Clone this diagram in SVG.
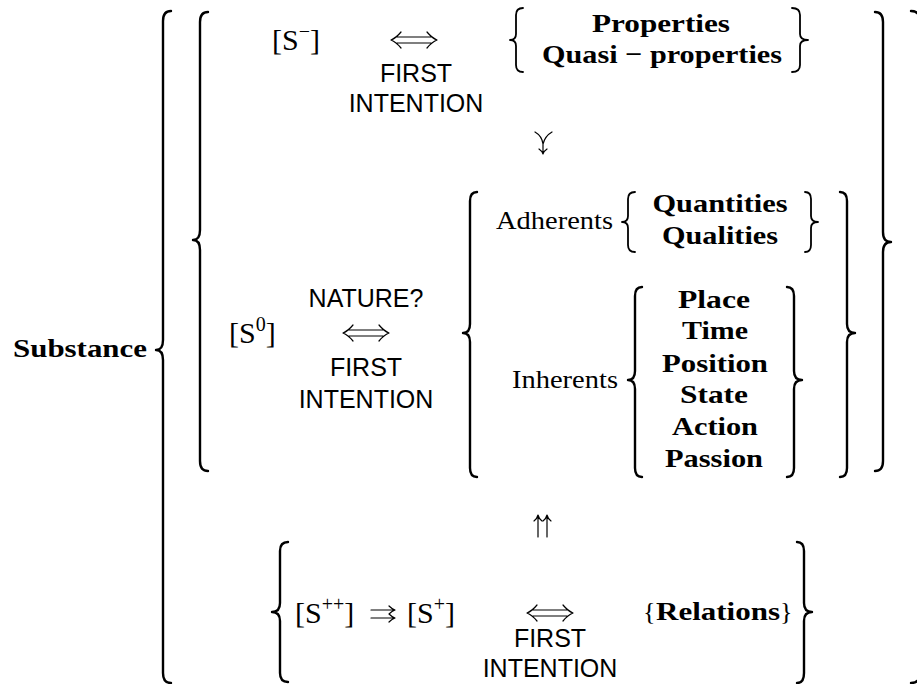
<svg xmlns="http://www.w3.org/2000/svg" width="917" height="684" viewBox="0 0 917 684">
<style>
.rm{font-family:"Liberation Serif","DejaVu Serif",serif;font-size:26px;fill:#000}
.mx{font-family:"Liberation Serif","DejaVu Serif",serif;font-size:30px;fill:#000}
.bf{font-family:"Liberation Serif","DejaVu Serif",serif;font-size:26px;font-weight:bold;fill:#000}
.sf{font-family:"Liberation Sans","DejaVu Sans",sans-serif;font-size:25px;fill:#000}
.sup{font-size:20px}
.br{fill:none;stroke:#000;stroke-width:2.4;stroke-linecap:round;stroke-linejoin:round}
.bs{fill:none;stroke:#000;stroke-width:1.8;stroke-linecap:round;stroke-linejoin:round}
.ar{fill:none;stroke:#000;stroke-width:1.2;stroke-linecap:round;stroke-linejoin:round}
</style>
<defs>
<g id="iff" class="ar">
<path d="M6,-3H40M6,3H40M10,-8Q5,-2 0,0Q5,2 10,8M36,-8Q41,-2 46,0Q41,2 36,8"/>
</g>
</defs>
<rect width="917" height="684" fill="#fff"/>

<g id="braces">
<path class="br" d="M171,11Q163,11 163,21L163,340Q163,350 156,350Q163,350 163,360L163,673Q163,683 171,683"/>
<path class="br" d="M208,12Q200,12 200,22L200,230Q200,240 193,240Q200,240 200,250L200,461Q200,471 208,471"/>
<path class="br" d="M875,12Q883,12 883,22L883,232Q883,242 891,242Q883,242 883,252L883,461Q883,471 875,471"/>
<path class="br" d="M911,11Q920,11 920,21M911,683Q920,683 920,673"/>
<path class="bs" d="M523,8Q516,8 516,15L516,34Q516,40 510,40Q516,40 516,46L516,65Q516,72 523,72"/>
<path class="bs" d="M792,8Q800,8 800,15L800,34Q800,40 808,40Q800,40 800,46L800,65Q800,72 792,72"/>
<path class="bs" d="M635,192Q628,192 628,199L628,216Q628,222 622,222Q628,222 628,228L628,245Q628,252 635,252"/>
<path class="bs" d="M805,192Q811,192 811,199L811,216Q811,222 818,222Q811,222 811,228L811,245Q811,252 805,252"/>
<path class="br" d="M477,192Q470,192 470,201L470,324Q470,333 463,333Q470,333 470,342L470,468Q470,477 477,477"/>
<path class="br" d="M840,192Q847,192 847,201L847,324Q847,333 855,333Q847,333 847,342L847,468Q847,477 840,477"/>
<path class="br" d="M642,287Q635,287 635,296L635,371Q635,380 628,380Q635,380 635,389L635,468Q635,477 642,477"/>
<path class="br" d="M787,287Q794,287 794,296L794,371Q794,380 802,380Q794,380 794,389L794,468Q794,477 787,477"/>
<path class="br" d="M288,542Q280,542 280,551L280,603Q280,612 272,612Q280,612 280,621L280,673Q280,682 288,682"/>
<path class="br" d="M797,542Q804,542 804,551L804,603Q804,612 812,612Q804,612 804,621L804,673Q804,683 797,683"/>
</g>

<g id="substance"><text class="bf" x="13" y="357" textLength="134" lengthAdjust="spacingAndGlyphs">Substance</text></g>

<g id="s-minus"><text class="mx" x="272" y="50">[S<tspan class="sup" dy="-12">−</tspan><tspan dy="12">]</tspan></text></g>
<g id="first-intention-1">
<text class="sf" x="416" y="82" text-anchor="middle">FIRST</text>
<text class="sf" x="416" y="112" text-anchor="middle">INTENTION</text>
</g>
<g id="properties">
<text class="bf" x="661" y="32" text-anchor="middle" textLength="138" lengthAdjust="spacingAndGlyphs">Properties</text>
<text class="bf" x="662" y="63" text-anchor="middle" textLength="240" lengthAdjust="spacingAndGlyphs">Quasi − properties</text>
</g>

<g id="s-zero"><text class="mx" x="229" y="343">[S<tspan class="sup" dy="-12">0</tspan><tspan dy="12">]</tspan></text></g>
<g id="nature">
<text class="sf" x="366" y="307" text-anchor="middle">NATURE?</text>
<text class="sf" x="366" y="376" text-anchor="middle">FIRST</text>
<text class="sf" x="366" y="408" text-anchor="middle">INTENTION</text>
</g>
<g id="adherents">
<text class="rm" x="496" y="229" textLength="117" lengthAdjust="spacingAndGlyphs">Adherents</text>
<text class="bf" x="720" y="212" text-anchor="middle" textLength="135" lengthAdjust="spacingAndGlyphs">Quantities</text>
<text class="bf" x="720" y="244" text-anchor="middle" textLength="116" lengthAdjust="spacingAndGlyphs">Qualities</text>
</g>
<g id="inherents">
<text class="rm" x="512" y="388" textLength="106" lengthAdjust="spacingAndGlyphs">Inherents</text>
<text class="bf" x="714" y="308" text-anchor="middle" textLength="72" lengthAdjust="spacingAndGlyphs">Place</text>
<text class="bf" x="715" y="339" text-anchor="middle" textLength="66" lengthAdjust="spacingAndGlyphs">Time</text>
<text class="bf" x="715" y="372" text-anchor="middle" textLength="106" lengthAdjust="spacingAndGlyphs">Position</text>
<text class="bf" x="714" y="403" text-anchor="middle" textLength="68" lengthAdjust="spacingAndGlyphs">State</text>
<text class="bf" x="715" y="435" text-anchor="middle" textLength="86" lengthAdjust="spacingAndGlyphs">Action</text>
<text class="bf" x="714" y="467" text-anchor="middle" textLength="98" lengthAdjust="spacingAndGlyphs">Passion</text>
</g>

<g id="s-plus">
<text class="mx" x="295" y="623">[S<tspan class="sup" dy="-12">++</tspan><tspan dy="12">]</tspan></text>
<text class="mx" x="407" y="623">[S<tspan class="sup" dy="-12">+</tspan><tspan dy="12">]</tspan></text>
</g>
<g id="first-intention-3">
<text class="sf" x="550" y="647" text-anchor="middle">FIRST</text>
<text class="sf" x="550" y="677" text-anchor="middle">INTENTION</text>
</g>
<g id="relations">
<text class="rm" x="643" y="620">{</text>
<text class="bf" x="656" y="620" textLength="124" lengthAdjust="spacingAndGlyphs">Relations</text>
<text class="rm" x="780" y="620">}</text>
</g>

<g id="connectors">
<use href="#iff" transform="translate(391,40)"/>
<use href="#iff" transform="translate(343,333)"/>
<use href="#iff" transform="translate(527,613)"/>
<path class="ar" d="M535,132Q542,136 543,144M552,132Q545,136 543,144L543,153M539,149Q542,151 543,154Q544,151 547,149"/>
<path class="ar" d="M538,537V516M534,521Q537,519 538,515Q539,519 542,521M547,537V516M543,521Q546,519 547,515Q548,519 551,521"/>
<path class="ar" d="M371,610H394M389,606Q392,609 395,610Q392,611 389,614M371,618H394M389,614Q392,617 395,618Q392,619 389,622"/>
</g>
</svg>
